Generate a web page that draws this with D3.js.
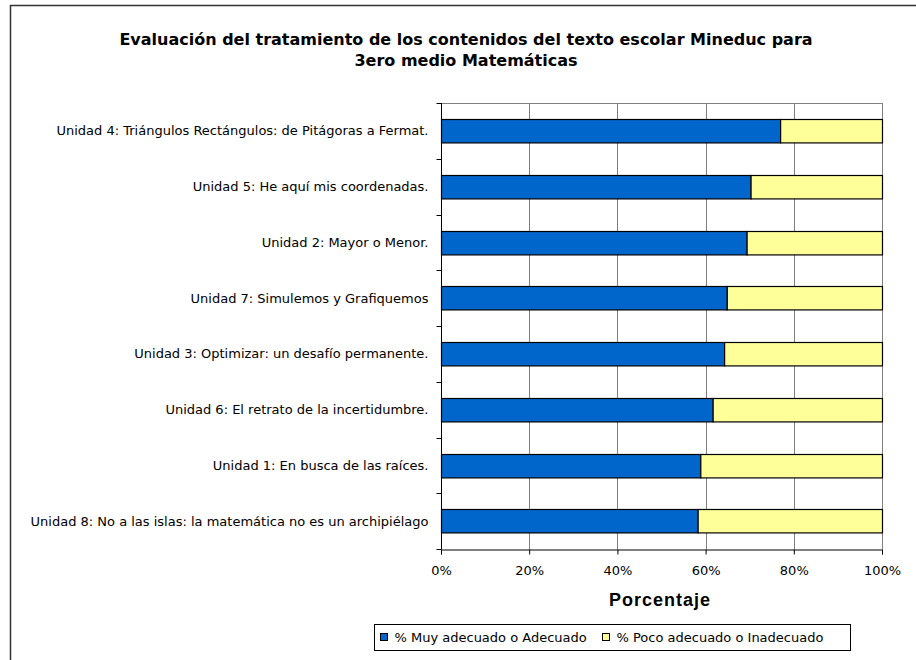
<!DOCTYPE html>
<html>
<head>
<meta charset="utf-8">
<script src="https://cdn.jsdelivr.net/npm/d3@7"></script>
<style>
  body { margin: 0; background: #fff; }
  svg { display: block; }
</style>
</head>
<body>
<svg id="chart" width="916" height="660"></svg>
<script>
// data (top to bottom)
const categories = [
  "Unidad 4: Triángulos Rectángulos: de Pitágoras a Fermat.",
  "Unidad 5: He aquí mis coordenadas.",
  "Unidad 2: Mayor o Menor.",
  "Unidad 7: Simulemos y Grafiquemos",
  "Unidad 3: Optimizar: un desafío permanente.",
  "Unidad 6: El retrato de la incertidumbre.",
  "Unidad 1: En busca de las raíces.",
  "Unidad 8: No a las islas: la matemática no es un archipiélago"
];
const adecuado = [76.9, 70.2, 69.3, 64.8, 64.2, 61.6, 58.8, 58.2];
const inadecuado = [23.1, 29.8, 30.7, 35.2, 35.8, 38.4, 41.2, 41.8];
const seriesNames = ["% Muy adecuado o Adecuado", "% Poco adecuado o Inadecuado"];
const seriesColors = ["#0066cc", "#ffff99"];
const xTicks = [0, 0.2, 0.4, 0.6, 0.8, 1];

const font = "'DejaVu Sans', Verdana, sans-serif";
const svg = d3.select("#chart");

// outer chart frame (only top and left edges are inside the picture)
svg.append("path")
  .attr("d", "M10.5,660V5.5H916")
  .attr("fill", "none").attr("stroke", "#333").attr("stroke-width", 1.5);

const margin = { top: 103, left: 441, right: 34, bottom: 111 };
const innerWidth = 916 - margin.left - margin.right,
      innerHeight = 660 - margin.top - margin.bottom;

const g = svg.append("g").attr("transform", `translate(${margin.left},${margin.top})`);

const rows = categories.map((c, i) => ({
  cat: c,
  a: adecuado[i] / (adecuado[i] + inadecuado[i]),
  b: inadecuado[i] / (adecuado[i] + inadecuado[i])
}));

const x_Scale = d3.scaleLinear().domain([0, 1]).range([0, innerWidth]);
const y_Scale = d3.scaleBand().domain(categories).range([0, innerHeight]).paddingInner(0.58).paddingOuter(0.29);

// gridlines
g.selectAll(".grid").data(xTicks.slice(1)).join("line")
  .attr("class", "grid")
  .attr("x1", d => Math.round(x_Scale(d)) + 0.5).attr("x2", d => Math.round(x_Scale(d)) + 0.5)
  .attr("y1", 0).attr("y2", innerHeight)
  .attr("stroke", "#7f7f7f").attr("stroke-width", 1);
g.append("line")
  .attr("x1", 0).attr("x2", innerWidth).attr("y1", 0.5).attr("y2", 0.5)
  .attr("stroke", "#7f7f7f");

// bars
const stack = d3.stack().keys(["a", "b"])(rows);
stack.forEach((layer, k) => {
  g.selectAll(".bar" + k).data(layer).join("rect")
    .attr("class", "bar" + k)
    .attr("x", d => x_Scale(d[0]) + 0.5)
    .attr("y", d => Math.round(y_Scale(d.data.cat)) + 0.5)
    .attr("width", d => x_Scale(d[1]) - x_Scale(d[0]))
    .attr("height", y_Scale.bandwidth())
    .attr("fill", seriesColors[k])
    .attr("stroke", "#000").attr("stroke-width", 1.2);
});

// x axis
const xAxis = g.append("g")
  .attr("transform", `translate(0,${innerHeight + 0.5})`)
  .call(d3.axisBottom(x_Scale).tickValues(xTicks).tickFormat(d3.format(".0%")).tickSizeOuter(0).tickSize(5));
xAxis.select(".domain").attr("stroke", "#000");
xAxis.selectAll(".tick text").attr("font-family", font).attr("font-size", 13).attr("fill", "#000").attr("dy", "1.35em");

// y axis with ticks between categories
const yAxis = g.append("g").attr("transform", "translate(0.5,0)");
yAxis.append("line").attr("x1", 0).attr("x2", 0).attr("y1", 0).attr("y2", innerHeight).attr("stroke", "#000");
yAxis.selectAll(".ytick").data(d3.range(categories.length + 1)).join("line")
  .attr("class", "ytick")
  .attr("x1", -5).attr("x2", 0)
  .attr("y1", i => Math.round(i * innerHeight / categories.length) + 0.5)
  .attr("y2", i => Math.round(i * innerHeight / categories.length) + 0.5)
  .attr("stroke", "#000");
yAxis.selectAll(".ylab").data(categories).join("text")
  .attr("class", "ylab")
  .attr("x", -13)
  .attr("y", d => y_Scale(d) + y_Scale.bandwidth() / 2)
  .attr("dy", "0.35em")
  .attr("text-anchor", "end")
  .attr("font-family", font).attr("font-size", 13)
  .text(d => d);

// title
const title = svg.append("text")
  .attr("text-anchor", "middle")
  .attr("font-family", font).attr("font-size", 16).attr("font-weight", "bold");
title.append("tspan").attr("x", 466).attr("y", 45).text("Evaluación del tratamiento de los contenidos del texto escolar Mineduc para");
title.append("tspan").attr("x", 466).attr("y", 66).text("3ero medio Matemáticas");

// axis title
svg.append("text")
  .attr("x", 660).attr("y", 606)
  .attr("text-anchor", "middle")
  .attr("font-family", "Arial, 'Liberation Sans', sans-serif").attr("font-size", 18).attr("font-weight", "bold")
  .attr("letter-spacing", 1)
  .text("Porcentaje");

// legend
const legend = svg.append("g").attr("transform", "translate(374.5,624.5)");
legend.append("rect").attr("width", 476).attr("height", 26)
  .attr("fill", "#fff").attr("stroke", "#000");
const itemX = [6, 228];
seriesNames.forEach((name, k) => {
  legend.append("rect")
    .attr("x", itemX[k]).attr("y", 9)
    .attr("width", 7).attr("height", 7)
    .attr("fill", seriesColors[k]).attr("stroke", "#000");
  legend.append("text")
    .attr("x", itemX[k] + 14).attr("y", 13)
    .attr("dy", "0.35em")
    .attr("font-family", font).attr("font-size", 13)
    .text(name);
});
</script>
</body>
</html>
